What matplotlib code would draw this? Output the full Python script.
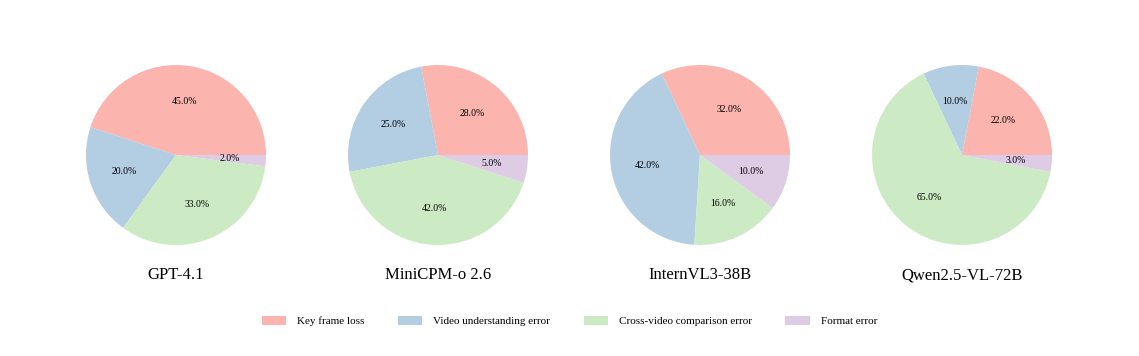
import matplotlib
matplotlib.use("Agg")
import matplotlib.pyplot as plt
from matplotlib.patches import Patch

plt.rcParams["font.family"] = ["Liberation Serif", "DejaVu Serif"]

models = ["GPT-4.1", "MiniCPM-o 2.6", "InternVL3-38B", "Qwen2.5-VL-72B"]
categories = ["Key frame loss", "Video understanding error",
              "Cross-video comparison error", "Format error"]
shares = [
    [45, 20, 33, 2],
    [28, 25, 42, 5],
    [32, 42, 16, 10],
    [22, 10, 65, 3],
]
colors = ["#FBB4AE", "#B3CDE3", "#CCEBC5", "#DECBE4"]

W, H = 1139, 356
fig = plt.figure(figsize=(W / 100, H / 100), dpi=100)

centers_x = [176, 438, 700, 962]
cy = 155
r = 90

for name, vals, cx in zip(models, shares, centers_x):
    ax = fig.add_axes([(cx - r) / W, 1 - (cy + r) / H, 2 * r / W, 2 * r / H])
    ax.pie(vals, colors=colors, startangle=0, counterclock=True,
           autopct="%1.1f%%", pctdistance=0.6,
           textprops={"fontsize": 7})
    ax.set_xlim(-1, 1)
    ax.set_ylim(-1, 1)
    ax.set_aspect("equal")
    ax.axis("off")
    fig.text(cx / W, 1 - 275 / H, name, ha="center", va="center", fontsize=12)

handles = [Patch(facecolor=c, edgecolor="none", label=l) for c, l in zip(colors, categories)]
fig.legend(handles=handles, loc="center", bbox_to_anchor=(0.5, 1 - 321 / H),
           ncol=4, frameon=False, fontsize=8, handlelength=2.2, handleheight=0.9,
           columnspacing=3.0, handletextpad=1.0)

fig.savefig("out.png", dpi=100)
